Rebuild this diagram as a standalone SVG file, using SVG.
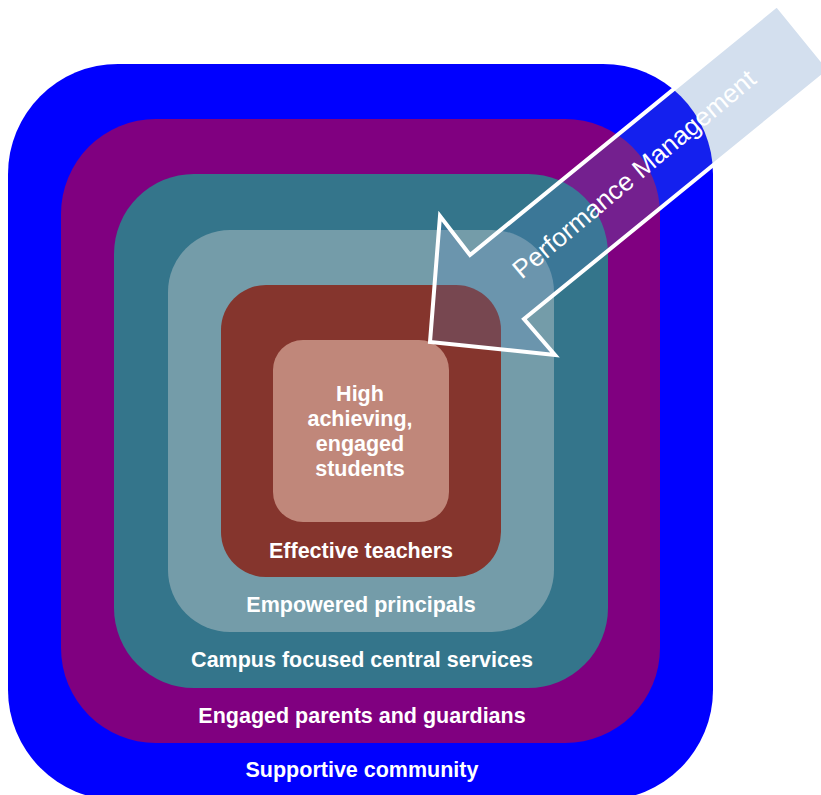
<svg xmlns="http://www.w3.org/2000/svg" width="821" height="795" viewBox="0 0 821 795">
<style>
.lbl{font-family:"Liberation Sans",Arial,sans-serif;font-weight:bold;font-size:21.5px;fill:#fff;text-anchor:middle}
.arrowtxt{font-family:"Liberation Sans",Arial,sans-serif;font-size:26px;fill:#fff;text-anchor:middle;dominant-baseline:central}
</style>
<rect width="821" height="795" fill="#fff"/>
<g id="supportive-community">
<rect x="8" y="64" width="705" height="736" rx="110" ry="110" fill="#0000FF"/>
<text class="lbl" x="362" y="777">Supportive community</text>
</g>
<g id="engaged-parents">
<rect x="61" y="119" width="599" height="624" rx="95" ry="95" fill="#800080"/>
<text class="lbl" x="362" y="723">Engaged parents and guardians</text>
</g>
<g id="central-services">
<rect x="114" y="174" width="494" height="514" rx="80" ry="80" fill="#34758B"/>
<text class="lbl" x="362" y="667">Campus focused central services</text>
</g>
<g id="principals">
<rect x="168" y="230" width="386" height="402" rx="62" ry="62" fill="#749CA9"/>
<text class="lbl" x="361" y="612">Empowered principals</text>
</g>
<g id="teachers">
<rect x="221" y="285" width="280" height="292" rx="45" ry="45" fill="#85352D"/>
<text class="lbl" x="361" y="558">Effective teachers</text>
</g>
<g id="students">
<rect x="273" y="340" width="176" height="182" rx="30" ry="30" fill="#C0877A"/>
<text class="lbl" x="360"><tspan x="360" y="401">High</tspan><tspan x="360" y="426">achieving,</tspan><tspan x="360" y="451">engaged</tspan><tspan x="360" y="476">students</tspan></text>
</g>
<g id="connectors">
<g id="performance-management">
<polygon points="777,5 830,70 524,319 555,355 430,342 440,216 470,255" fill="#4F81BD" fill-opacity="0.25" stroke="#fff" stroke-width="4" stroke-linejoin="miter"/>
<text class="arrowtxt" x="634" y="174" transform="rotate(-40 634 174)">Performance Management</text>
</g>
</g>
</svg>
